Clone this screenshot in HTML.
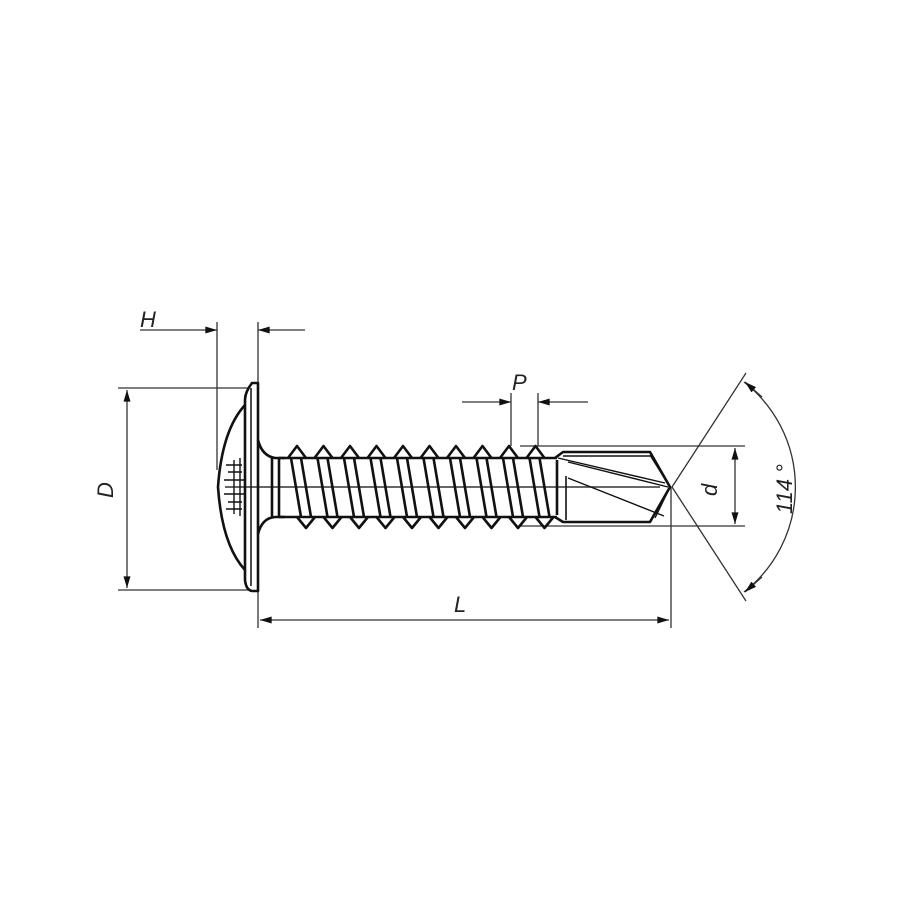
<!DOCTYPE html>
<html><head><meta charset="utf-8"><style>
html,body{margin:0;padding:0;background:#fff;width:900px;height:900px;overflow:hidden}
text{font-family:"Liberation Sans",sans-serif;font-style:italic;fill:#222}
</style></head><body>
<svg width="900" height="900" viewBox="0 0 900 900" xmlns="http://www.w3.org/2000/svg">
<defs>
<marker id="a" viewBox="0 0 10 6" refX="10" refY="3" markerWidth="16" markerHeight="7" markerUnits="userSpaceOnUse" orient="auto"><path d="M0,0L10,3L0,6z" fill="#111"/></marker>
</defs>
<g stroke="#333" stroke-width="1.3" fill="none">
<line x1="217" y1="322" x2="217" y2="470"/>
<line x1="258" y1="322" x2="258" y2="385"/>
<line x1="140" y1="330" x2="217" y2="330" marker-end="url(#a)"/>
<line x1="305" y1="330" x2="258" y2="330" marker-end="url(#a)"/>
<line x1="118" y1="388" x2="248" y2="388"/>
<line x1="118" y1="590" x2="248" y2="590"/>
<line x1="127" y1="440" x2="127" y2="390" marker-end="url(#a)"/>
<line x1="127" y1="540" x2="127" y2="588" marker-end="url(#a)"/>
<line x1="127" y1="440" x2="127" y2="540"/>
<line x1="258" y1="590" x2="258" y2="628"/>
<line x1="671" y1="487" x2="671" y2="628"/>
<line x1="460" y1="620" x2="260" y2="620" marker-end="url(#a)"/>
<line x1="460" y1="620" x2="669" y2="620" marker-end="url(#a)"/>
<line x1="511" y1="393" x2="511" y2="446"/>
<line x1="538" y1="393" x2="538" y2="446"/>
<line x1="462" y1="402" x2="511" y2="402" marker-end="url(#a)"/>
<line x1="588" y1="402" x2="538" y2="402" marker-end="url(#a)"/>
<line x1="520" y1="446" x2="745" y2="446"/>
<line x1="520" y1="526" x2="745" y2="526"/>
<line x1="735" y1="486" x2="735" y2="448" marker-end="url(#a)"/>
<line x1="735" y1="486" x2="735" y2="524" marker-end="url(#a)"/>
<line x1="672" y1="487" x2="746" y2="373"/>
<line x1="672" y1="487" x2="746" y2="601"/>
<path d="M744,382 A133,133 0 0 1 744,592"/>
<line x1="762" y1="397" x2="745" y2="382" marker-end="url(#a)"/>
<line x1="762" y1="577" x2="745" y2="592" marker-end="url(#a)"/>
<line x1="225" y1="487" x2="660" y2="487" stroke-width="1.5"/>
</g>
<g stroke="#111" stroke-width="2.6" fill="none" stroke-linejoin="round">
<path d="M258,383 L252,383 Q245,392 245,400 L245,580 Q246,590 252,591 L258,591 Z"/>
<line x1="251" y1="388" x2="251" y2="586" stroke-width="1.5"/>
<path d="M245,405 Q222,430 218,487 Q222,545 245,570"/>
<g stroke-width="1.4">
<path d="M226,465 h16 M228,472 h14 M224,480 h20 M224,494 h20 M228,502 h14 M226,509 h16"/>
<path d="M234,460 v54 M240,458 v58"/>
</g>
<path d="M258,440 Q262,456 275,458 L285,458"/>
<path d="M258,534 Q262,518 275,517 L285,517"/>
<line x1="272" y1="458" x2="272" y2="517"/>
<line x1="279" y1="458" x2="279" y2="517"/>
<line x1="279" y1="458" x2="557" y2="458"/>
<line x1="279" y1="517" x2="557" y2="517"/>
<g id="t">
<path d="M288,458 L297,446 L306,458"/>
<path d="M297,517 L306,528 L315,517"/>
<path d="M291,458 L301,517"/>
<path d="M301,458 L311,517"/>
</g>
<use href="#t" x="26.5"/>
<use href="#t" x="53"/>
<use href="#t" x="79.5"/>
<use href="#t" x="106"/>
<use href="#t" x="132.5"/>
<use href="#t" x="159"/>
<use href="#t" x="185.5"/>
<use href="#t" x="212"/>
<use href="#t" x="238.5"/>
<path d="M555,458 L563,452 L650,452 L670,487 L650,522 L563,522 L555,517"/>
<line x1="557" y1="460" x2="557" y2="515"/>
<line x1="566" y1="476" x2="566" y2="520" stroke-width="1.6"/>
<g stroke-width="1.4">
<path d="M558,458 L665,483"/>
<path d="M568,462 L668,487"/>
<path d="M568,478 L664,516"/>
<path d="M650,455 L670,487 L655,518"/>
<path d="M563,456 L650,456"/>
</g>
</g>
<text x="140" y="327" font-size="22">H</text>
<text x="0" y="0" font-size="22" transform="translate(113,498) rotate(-90)">D</text>
<text x="512" y="390" font-size="22">P</text>
<text x="454" y="612" font-size="22">L</text>
<text x="0" y="0" font-size="22" transform="translate(717,496) rotate(-90)">d</text>
<text x="0" y="0" font-size="22" transform="translate(792,514) rotate(-90)">114 °</text>
</svg>
</body></html>
